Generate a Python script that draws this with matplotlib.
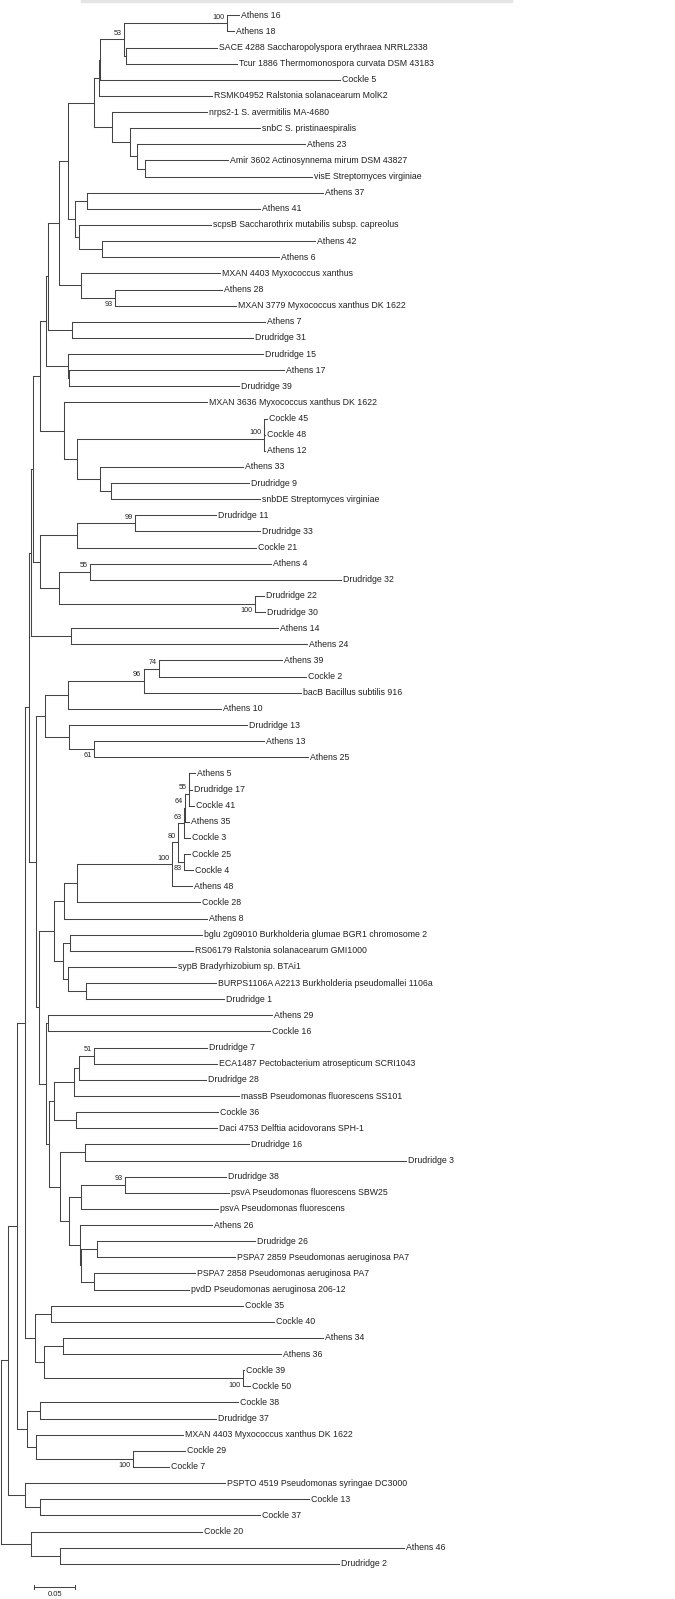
import matplotlib
matplotlib.use("Agg")
import matplotlib.pyplot as plt
from matplotlib.patches import Rectangle

# tips, top to bottom, with their distance from the root
leaf_names = [
    "Athens 16", "Athens 18",
    "SACE 4288 Saccharopolyspora erythraea NRRL2338",
    "Tcur 1886 Thermomonospora curvata DSM 43183",
    "Cockle 5", "RSMK04952 Ralstonia solanacearum MolK2",
    "nrps2-1 S. avermitilis MA-4680", "snbC S. pristinaespiralis", "Athens 23",
    "Amir 3602 Actinosynnema mirum DSM 43827", "visE Streptomyces virginiae",
    "Athens 37", "Athens 41", "scpsB Saccharothrix mutabilis subsp. capreolus",
    "Athens 42", "Athens 6", "MXAN 4403 Myxococcus xanthus", "Athens 28",
    "MXAN 3779 Myxococcus xanthus DK 1622", "Athens 7", "Drudridge 31",
    "Drudridge 15", "Athens 17", "Drudridge 39",
    "MXAN 3636 Myxococcus xanthus DK 1622", "Cockle 45", "Cockle 48", "Athens 12",
    "Athens 33", "Drudridge 9", "snbDE Streptomyces virginiae",
    "Drudridge 11", "Drudridge 33", "Cockle 21", "Athens 4", "Drudridge 32",
    "Drudridge 22", "Drudridge 30", "Athens 14", "Athens 24",
    "Athens 39", "Cockle 2", "bacB Bacillus subtilis 916", "Athens 10",
    "Drudridge 13", "Athens 13", "Athens 25",
    "Athens 5", "Drudridge 17", "Cockle 41", "Athens 35", "Cockle 3",
    "Cockle 25", "Cockle 4", "Athens 48", "Cockle 28", "Athens 8",
    "bglu 2g09010 Burkholderia glumae BGR1 chromosome 2",
    "RS06179 Ralstonia solanacearum GMI1000", "sypB Bradyrhizobium sp. BTAi1",
    "BURPS1106A A2213 Burkholderia pseudomallei 1106a", "Drudridge 1",
    "Athens 29", "Cockle 16", "Drudridge 7",
    "ECA1487 Pectobacterium atrosepticum SCRI1043", "Drudridge 28",
    "massB Pseudomonas fluorescens SS101", "Cockle 36",
    "Daci 4753 Delftia acidovorans SPH-1", "Drudridge 16", "Drudridge 3",
    "Drudridge 38", "psvA Pseudomonas fluorescens SBW25",
    "psvA Pseudomonas fluorescens", "Athens 26", "Drudridge 26",
    "PSPA7 2859 Pseudomonas aeruginosa PA7",
    "PSPA7 2858 Pseudomonas aeruginosa PA7",
    "pvdD Pseudomonas aeruginosa 206-12",
    "Cockle 35", "Cockle 40", "Athens 34", "Athens 36", "Cockle 39", "Cockle 50",
    "Cockle 38", "Drudridge 37", "MXAN 4403 Myxococcus xanthus DK 1622",
    "Cockle 29", "Cockle 7", "PSPTO 4519 Pseudomonas syringae DC3000",
    "Cockle 13", "Cockle 37", "Cockle 20", "Athens 46", "Drudridge 2",
]
leaf_depth = [
    0.291, 0.284, 0.264, 0.288, 0.414, 0.258, 0.251, 0.317, 0.371, 0.277,
    0.380, 0.393, 0.316, 0.256, 0.384, 0.340, 0.267, 0.270, 0.287, 0.323,
    0.308, 0.320, 0.346, 0.291, 0.251, 0.325, 0.323, 0.323, 0.296, 0.303,
    0.317, 0.262, 0.317, 0.311, 0.330, 0.416, 0.321, 0.322, 0.338, 0.374,
    0.343, 0.373, 0.367, 0.269, 0.301, 0.321, 0.375, 0.237, 0.233, 0.236,
    0.230, 0.231, 0.231, 0.235, 0.233, 0.243, 0.251, 0.246, 0.234, 0.214,
    0.262, 0.272, 0.331, 0.329, 0.252, 0.264, 0.250, 0.291, 0.265, 0.264,
    0.303, 0.495, 0.275, 0.278, 0.265, 0.258, 0.310, 0.286, 0.237, 0.229,
    0.295, 0.333, 0.393, 0.342, 0.297, 0.304, 0.289, 0.262, 0.222, 0.225,
    0.205, 0.273, 0.376, 0.317, 0.246, 0.493, 0.413,
]

# internal nodes, children listed before parents; last one is the root
clade_ids = ["c%02d" % i for i in range(1, 97)]
clade_kids = [
    ["Athens 16", "Athens 18"],
    ["SACE 4288 Saccharopolyspora erythraea NRRL2338", "Tcur 1886 Thermomonospora curvata DSM 43183"],
    ["c01", "c02"],
    ["c03", "Cockle 5"],
    ["c04", "RSMK04952 Ralstonia solanacearum MolK2"],
    ["Amir 3602 Actinosynnema mirum DSM 43827", "visE Streptomyces virginiae"],
    ["Athens 23", "c06"],
    ["snbC S. pristinaespiralis", "c07"],
    ["nrps2-1 S. avermitilis MA-4680", "c08"],
    ["c05", "c09"],
    ["Athens 37", "Athens 41"],
    ["Athens 42", "Athens 6"],
    ["scpsB Saccharothrix mutabilis subsp. capreolus", "c12"],
    ["c11", "c13"],
    ["c10", "c14"],
    ["Athens 28", "MXAN 3779 Myxococcus xanthus DK 1622"],
    ["MXAN 4403 Myxococcus xanthus", "c16"],
    ["c15", "c17"],
    ["Athens 7", "Drudridge 31"],
    ["c18", "c19"],
    ["Athens 17", "Drudridge 39"],
    ["Drudridge 15", "c21"],
    ["c20", "c22"],
    ["Cockle 45", "Cockle 48"],
    ["c24", "Athens 12"],
    ["Drudridge 9", "snbDE Streptomyces virginiae"],
    ["Athens 33", "c26"],
    ["c25", "c27"],
    ["MXAN 3636 Myxococcus xanthus DK 1622", "c28"],
    ["c23", "c29"],
    ["Drudridge 11", "Drudridge 33"],
    ["c31", "Cockle 21"],
    ["Athens 4", "Drudridge 32"],
    ["Drudridge 22", "Drudridge 30"],
    ["c33", "c34"],
    ["c32", "c35"],
    ["c30", "c36"],
    ["Athens 14", "Athens 24"],
    ["c37", "c38"],
    ["Athens 39", "Cockle 2"],
    ["c40", "bacB Bacillus subtilis 916"],
    ["c41", "Athens 10"],
    ["Athens 13", "Athens 25"],
    ["Drudridge 13", "c43"],
    ["c42", "c44"],
    ["Athens 5", "Drudridge 17"],
    ["c46", "Cockle 41"],
    ["c47", "Athens 35"],
    ["c48", "Cockle 3"],
    ["Cockle 25", "Cockle 4"],
    ["c49", "c50"],
    ["c51", "Athens 48"],
    ["c52", "Cockle 28"],
    ["c53", "Athens 8"],
    ["bglu 2g09010 Burkholderia glumae BGR1 chromosome 2", "RS06179 Ralstonia solanacearum GMI1000"],
    ["BURPS1106A A2213 Burkholderia pseudomallei 1106a", "Drudridge 1"],
    ["sypB Bradyrhizobium sp. BTAi1", "c56"],
    ["c55", "c57"],
    ["c54", "c58"],
    ["Athens 29", "Cockle 16"],
    ["Drudridge 7", "ECA1487 Pectobacterium atrosepticum SCRI1043"],
    ["c61", "Drudridge 28"],
    ["c62", "massB Pseudomonas fluorescens SS101"],
    ["Cockle 36", "Daci 4753 Delftia acidovorans SPH-1"],
    ["c63", "c64"],
    ["Drudridge 16", "Drudridge 3"],
    ["Drudridge 38", "psvA Pseudomonas fluorescens SBW25"],
    ["c67", "psvA Pseudomonas fluorescens"],
    ["Drudridge 26", "PSPA7 2859 Pseudomonas aeruginosa PA7"],
    ["PSPA7 2858 Pseudomonas aeruginosa PA7", "pvdD Pseudomonas aeruginosa 206-12"],
    ["c69", "c70"],
    ["Athens 26", "c71"],
    ["c68", "c72"],
    ["c66", "c73"],
    ["c65", "c74"],
    ["c60", "c75"],
    ["c59", "c76"],
    ["c45", "c77"],
    ["c39", "c78"],
    ["Cockle 35", "Cockle 40"],
    ["Athens 34", "Athens 36"],
    ["Cockle 39", "Cockle 50"],
    ["c81", "c82"],
    ["c80", "c83"],
    ["c79", "c84"],
    ["Cockle 38", "Drudridge 37"],
    ["Cockle 29", "Cockle 7"],
    ["MXAN 4403 Myxococcus xanthus DK 1622", "c87"],
    ["c86", "c88"],
    ["c85", "c89"],
    ["Cockle 13", "Cockle 37"],
    ["PSPTO 4519 Pseudomonas syringae DC3000", "c91"],
    ["c90", "c92"],
    ["Athens 46", "Drudridge 2"],
    ["Cockle 20", "c94"],
    ["c93", "c95"],
]
clade_depth = [
    0.276, 0.152, 0.150, 0.121, 0.120, 0.176, 0.166, 0.158, 0.135, 0.113,
    0.105, 0.123, 0.095, 0.090, 0.082, 0.139, 0.097, 0.071, 0.087, 0.057,
    0.083, 0.082, 0.055, 0.321, 0.321, 0.134, 0.121, 0.093, 0.077, 0.047,
    0.163, 0.092, 0.108, 0.310, 0.070, 0.047, 0.039, 0.085, 0.036, 0.193,
    0.174, 0.082, 0.113, 0.083, 0.054, 0.230, 0.229, 0.225, 0.223, 0.223,
    0.216, 0.209, 0.093, 0.077, 0.084, 0.103, 0.081, 0.076, 0.065, 0.057,
    0.113, 0.095, 0.089, 0.091, 0.065, 0.102, 0.151, 0.097, 0.117, 0.113,
    0.098, 0.096, 0.083, 0.072, 0.058, 0.055, 0.046, 0.043, 0.034, 0.061,
    0.075, 0.295, 0.052, 0.041, 0.029, 0.047, 0.161, 0.043, 0.031, 0.019,
    0.047, 0.029, 0.008, 0.072, 0.036, 0.000,
]
clade_boot = {
    "c01": 100, "c03": 53, "c16": 93, "c25": 100, "c31": 99, "c33": 55,
    "c34": 100, "c40": 74, "c41": 96, "c43": 61, "c47": 55, "c48": 64,
    "c49": 63, "c50": 83, "c51": 80, "c52": 100, "c61": 51, "c67": 93,
    "c82": 100, "c87": 100,
}
scale_len = 0.05

plt.rcParams['font.family'] = ['Liberation Sans', 'DejaVu Sans']

fig = plt.figure(figsize=(6.75, 15.99), dpi=100)
ax = fig.add_axes([0, 0, 1, 1])
px = 0.001223         # tree distance per pixel
row = 16.13           # pixels per tip
ax.set_xlim(-1.3 * px, 673.7 * px)
ax.set_ylim((1599 - 15.3) / row, -15.3 / row)
ax.axis('off')

fig.patches.append(Rectangle((81 / 675, 1 - 2 / 1599), 431 / 675, 2 / 1599,
                             transform=fig.transFigure, color='#e4e4e4', zorder=0))

depth = dict(zip(leaf_names, leaf_depth))
depth.update(zip(clade_ids, clade_depth))
ypos = {n: i for i, n in enumerate(leaf_names)}
parent = {}
for cid, ks in zip(clade_ids, clade_kids):
    ypos[cid] = (ypos[ks[0]] + ypos[ks[-1]]) / 2
    for k in ks:
        parent[k] = cid

lc = '#444444'
lw = 0.75
for cid, ks in zip(clade_ids, clade_kids):
    x0 = depth[cid]
    ax.plot([x0, x0], [ypos[ks[0]], ypos[ks[-1]]], color=lc, lw=lw,
            solid_capstyle='projecting')
    for k in ks:
        ax.plot([x0, depth[k]], [ypos[k], ypos[k]], color=lc, lw=lw,
                solid_capstyle='projecting')

for name in leaf_names:
    ax.text(depth[name] + 2 * px, ypos[name], name, fontsize=6.3,
            va='center', ha='left', color='#222222')

# bootstrap values sit above upper branches and below lower ones
for cid, b in clade_boot.items():
    p = parent[cid]
    dy = -0.36 if clade_kids[clade_ids.index(p)][0] == cid else 0.42
    ax.text(depth[cid] - 2.2 * px, ypos[cid] + dy, str(b), fontsize=5.2,
            va='center', ha='right', color='#222222')

# scale bar
sx = 33.1 * px
sy = (1586.7 - 15.3) / row
ax.plot([sx, sx + scale_len], [sy, sy], color=lc, lw=lw)
for xe in (sx, sx + scale_len):
    ax.plot([xe, xe], [sy - 0.13, sy + 0.13], color=lc, lw=lw)
ax.text(sx + scale_len / 2, (1595 - 15.3) / row, "%.2f" % scale_len,
        fontsize=5.5, ha='center', va='center', color='#222222')

fig.savefig("out.png", dpi=100)
